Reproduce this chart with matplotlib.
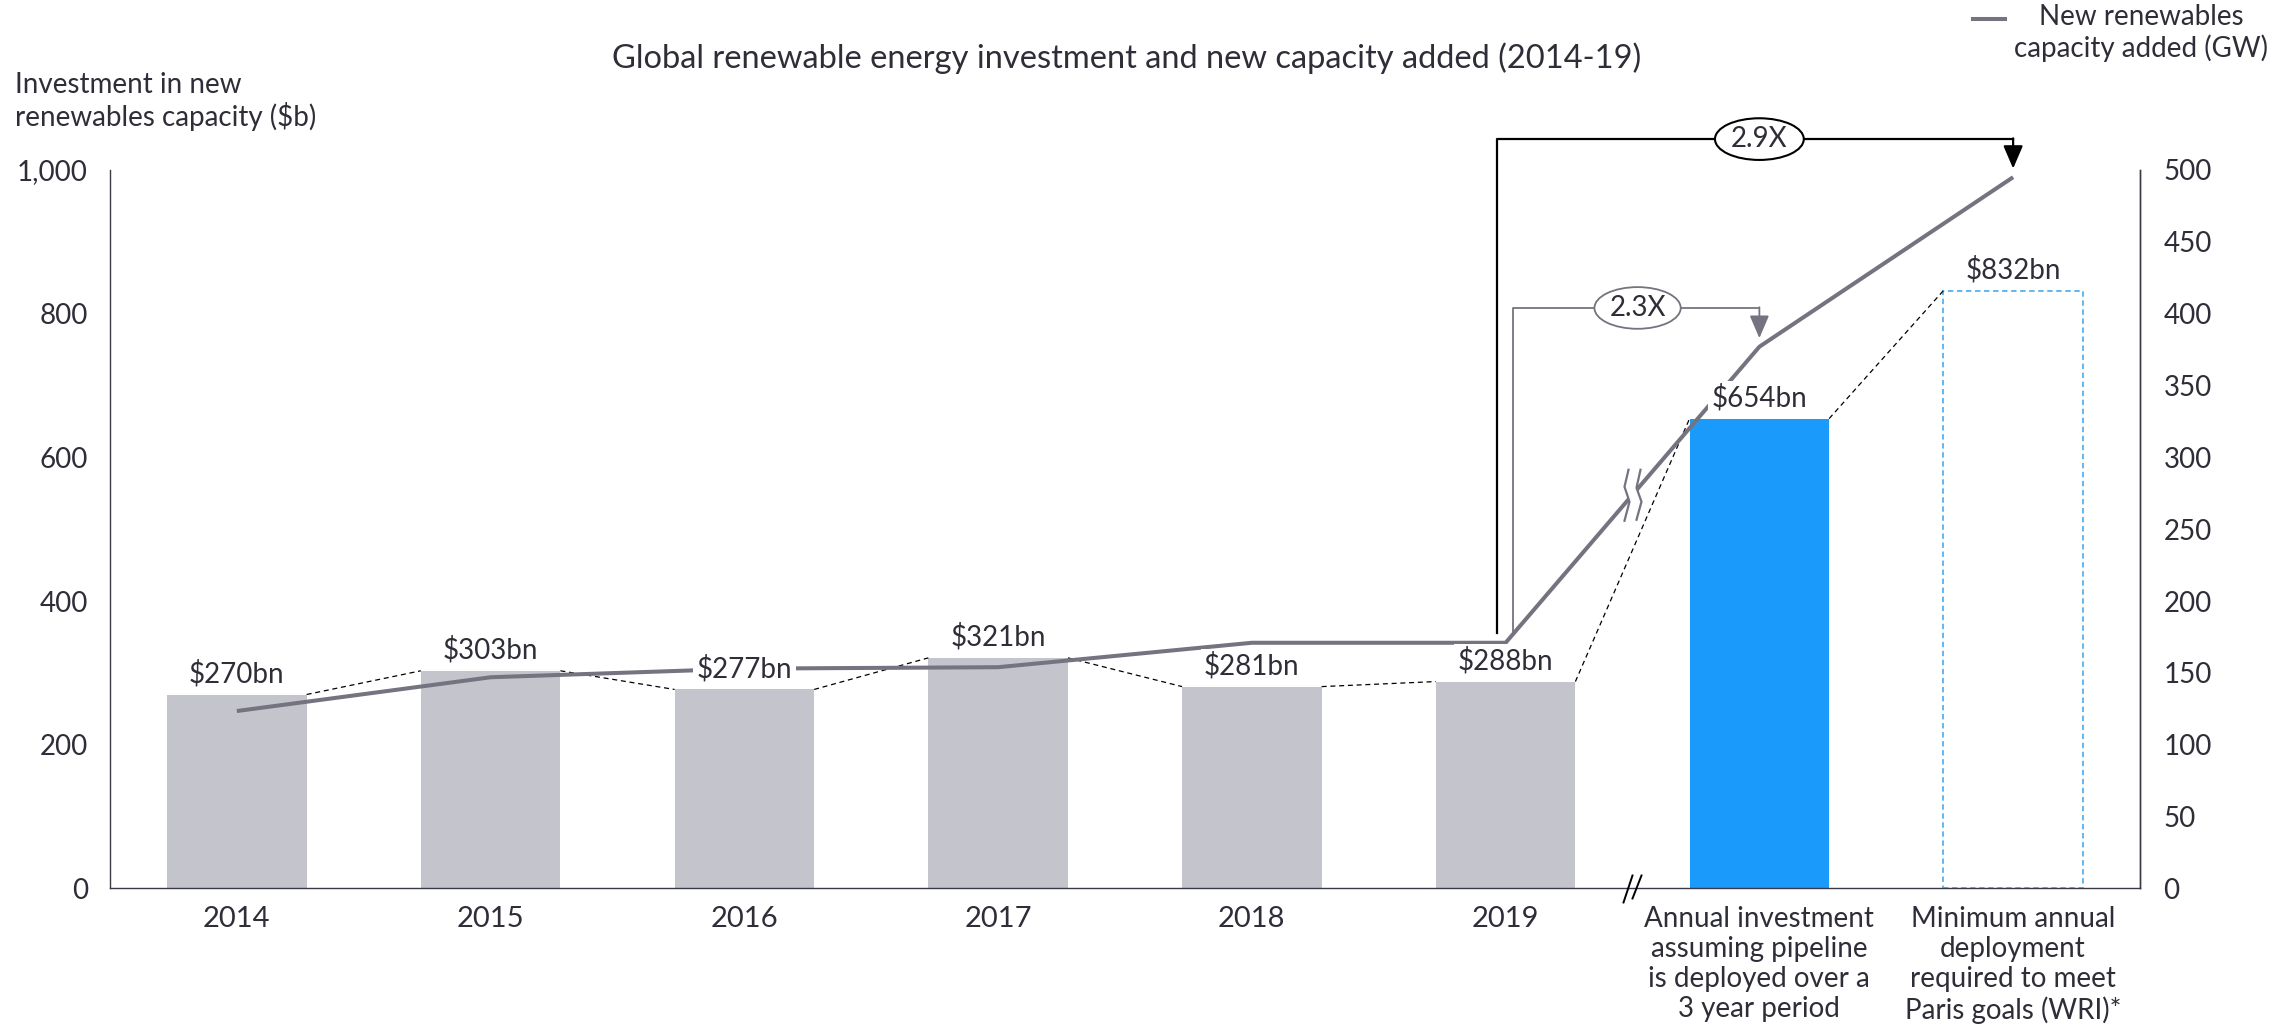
import matplotlib
matplotlib.use('Agg')
import matplotlib.pyplot as plt
from matplotlib.patches import Ellipse, Polygon
from matplotlib.lines import Line2D
from matplotlib.ticker import FuncFormatter
import numpy as np

# ---------------- data ----------------
categories = ['2014', '2015', '2016', '2017', '2018', '2019',
              'Annual investment\nassuming pipeline\nis deployed over a\n3 year period',
              'Minimum annual\ndeployment\nrequired to meet\nParis goals (WRI)*']
investment_bn = [270, 303, 277, 321, 281, 288, 654, 832]
value_labels = [r'\$270bn', r'\$303bn', r'\$277bn', r'\$321bn', r'\$281bn',
                r'\$288bn', r'\$654bn', r'\$832bn']
capacity_gw = [123.5, 147, 153, 154, 171, 171, 377, 495]
left_ticks = [0, 200, 400, 600, 800, 1000]
right_ticks = [0, 50, 100, 150, 200, 250, 300, 350, 400, 450, 500]
multipliers = ['2.9X', '2.3X']

# ---------------- style ----------------
TXT = '#2E2E38'
GRAY_BAR = '#C4C4CD'
LINE_C = '#74737F'
BLUE = '#1A9AFA'
LBLUE = '#55B2F2'
FS = 20

plt.rcParams['font.family'] = ['Lato', 'DejaVu Sans']
plt.rcParams['text.color'] = TXT

fig = plt.figure(figsize=(22.95, 10.26), dpi=100)
ax = fig.add_axes([0.04793, 0.13402, 0.88453, 0.70029])
ax2 = ax.twinx()

x = np.arange(len(categories))
w = 0.55

# bars
bar_colors = [GRAY_BAR] * 6 + [BLUE]
ax.bar(x[:7], investment_bn[:7], width=w, color=bar_colors, zorder=2)
ax.bar(x[7], investment_bn[7], width=w, facecolor='white', edgecolor=LBLUE,
       linestyle=(0, (3, 2)), linewidth=1.3, zorder=2)

# dashed connectors between bar tops
for i in range(len(x) - 1):
    ax.plot([x[i] + w / 2, x[i + 1] - w / 2], [investment_bn[i], investment_bn[i + 1]],
            color='black', lw=0.9, ls=(0, (4, 3)), zorder=3)

ax.set_xlim(-0.5, 7.5)
ax.set_ylim(0, 1000)
ax2.set_ylim(0, 500)
ax.set_yticks(left_ticks)
ax.yaxis.set_major_formatter(FuncFormatter(lambda v, p: f'{int(v):,}'))
ax2.set_yticks(right_ticks)
ax.set_xticks(x)
ax.set_xticklabels(categories, fontsize=FS, linespacing=1.2, color=TXT)
for lab in ax.get_xticklabels()[:6]:
    lab.set_fontsize(FS + 1)
ax.tick_params(axis='x', length=0, pad=12.5)
ax.tick_params(axis='y', length=0, pad=16, labelsize=FS, labelcolor=TXT)
ax2.tick_params(axis='y', length=0, pad=17, labelsize=FS, labelcolor=TXT)

for a in (ax, ax2):
    a.spines['top'].set_visible(False)
    for s in ('left', 'right', 'bottom'):
        a.spines[s].set_color('#3A3A44')
        a.spines[s].set_linewidth(1.0)
ax2.spines['left'].set_visible(False)
ax2.spines['bottom'].set_visible(False)

# capacity line
ax2.plot(x, capacity_gw, color=LINE_C, lw=2.9, solid_capstyle='butt', zorder=4)

# value labels
for i in range(len(x)):
    ax2.annotate(value_labels[i], xy=(x[i], investment_bn[i]), xycoords=ax.transData,
                 xytext=(0, 5), textcoords='offset points', ha='center', va='bottom',
                 fontsize=FS, color=TXT, zorder=6,
                 bbox=dict(boxstyle='square,pad=0.12', fc='white', ec='none'))

# break marker on the line (between 2019 and pipeline)
bx = (x[5] + x[6]) / 2
by = (capacity_gw[5] + capacity_gw[6]) / 2
cx, cy = ax2.transData.transform((bx, by))
c1 = [(-4, 25), (-8, 8), (-3, -7), (-8, -26)]
c2 = [(8, 25), (4, 7), (9, -7), (4, -25)]
poly = [(cx + dx, cy + dy) for dx, dy in c1] + [(cx + dx, cy + dy) for dx, dy in reversed(c2)]
ax2.add_patch(Polygon(poly, closed=True, transform=None, fc='white', ec='none', zorder=5))
for c in (c1, c2):
    ax2.add_line(Line2D([cx + dx for dx, dy in c], [cy + dy for dx, dy in c],
                        transform=None, color=LINE_C, lw=1.6, zorder=5))

# break marker on x axis
zx, zy = ax.transData.transform((bx, 0))
for (x0, y0, x1, y1) in [(-9, -14, 0, 13), (0, -10, 9, 13)]:
    fig.add_artist(Line2D([zx + x0, zx + x1], [zy + y0, zy + y1], transform=None,
                          color='black', lw=1.4, zorder=6))

# multiplier brackets (left axis units: GW * 2)
start_y = capacity_gw[5] * 2 + 14
# black 2.9X bracket to minimum
top_b = 1043
xb = x[5] - 0.035
ax2.plot([xb, xb, x[7]], [start_y, top_b, top_b], transform=ax.transData,
         color='black', lw=1.6, clip_on=False, zorder=5)
ax2.annotate('', xy=(x[7], capacity_gw[7] * 2 + 12), xycoords=ax.transData,
             xytext=(x[7], top_b + 1), textcoords=ax.transData,
             arrowprops=dict(arrowstyle='-|>,head_length=0.7,head_width=0.3',
                             color='black', lw=1.6, mutation_scale=20,
                             shrinkA=0, shrinkB=0), zorder=5, annotation_clip=False)
e1 = Ellipse((6.0, top_b), 0.35, 58, transform=ax.transData, fc='white', ec='black',
             lw=1.5, clip_on=False, zorder=6)
ax2.add_patch(e1)
ax2.text(6.0, top_b, multipliers[0], transform=ax.transData, ha='center', va='center',
         fontsize=FS, color=TXT, zorder=7, clip_on=False)

# gray 2.3X bracket to pipeline
top_g = 808
xg = x[5] + 0.03
ax2.plot([xg, xg, x[6]], [start_y, top_g, top_g], transform=ax.transData,
         color=LINE_C, lw=1.3, zorder=5)
ax2.annotate('', xy=(x[6], capacity_gw[6] * 2 + 12), xycoords=ax.transData,
             xytext=(x[6], top_g + 1), textcoords=ax.transData,
             arrowprops=dict(arrowstyle='-|>,head_length=0.7,head_width=0.3',
                             color=LINE_C, lw=1.3, mutation_scale=20,
                             shrinkA=0, shrinkB=0), zorder=5)
e2 = Ellipse((5.52, top_g), 0.34, 58, transform=ax.transData, fc='white', ec=LINE_C,
             lw=1.3, zorder=6)
ax2.add_patch(e2)
ax2.text(5.52, top_g, multipliers[1], transform=ax.transData, ha='center', va='center',
         fontsize=FS, color=TXT, zorder=7)

# titles & legend
fig.text(0.491, 0.9435, 'Global renewable energy investment and new capacity added (2014-19)',
         ha='center', va='center', fontsize=23.5, color=TXT)
fig.text(0.0065, 0.901, 'Investment in new\nrenewables capacity (\\$b)', ha='left', va='center',
         fontsize=FS, color=TXT, linespacing=1.19)
fig.add_artist(Line2D([0.8597, 0.8736], [0.9815, 0.9815], transform=fig.transFigure,
                      color=LINE_C, lw=2.9))
fig.text(0.9329, 0.9675, 'New renewables\ncapacity added (GW)', ha='center', va='center',
         fontsize=FS, color=TXT, linespacing=1.2, multialignment='center')

fig.savefig('out.png', dpi=100, facecolor='white')
